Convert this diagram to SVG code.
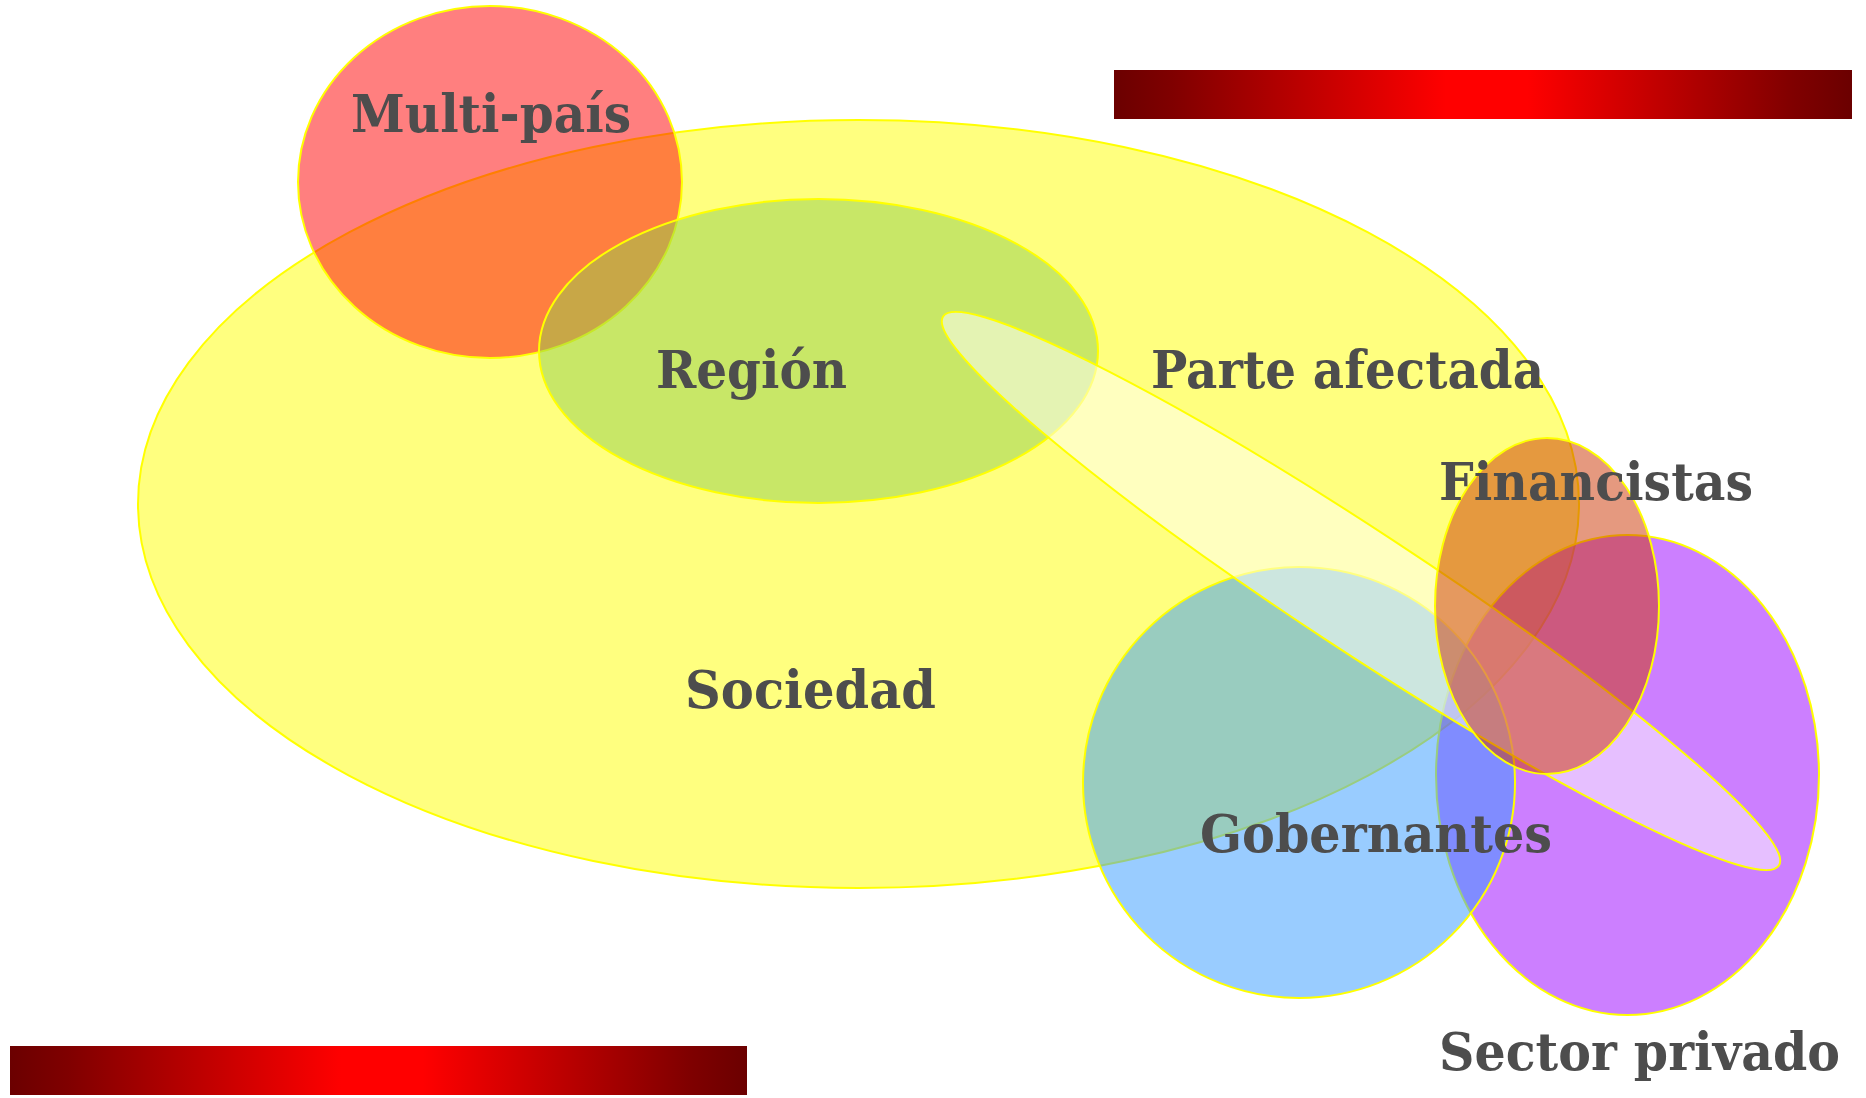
<svg xmlns="http://www.w3.org/2000/svg" width="1866" height="1098" viewBox="0 0 1866 1098">
  <style>
    .shape { stroke: #ffff00; stroke-width: 2; fill-opacity: 0.5; }
    .label { font-family: "DejaVu Serif", "Liberation Serif", serif; font-weight: bold; font-size: 53px; fill: #4d4d4d; }
  </style>
  <defs>
    <linearGradient id="fire" x1="0" y1="0" x2="1" y2="0">
      <stop offset="0" stop-color="#6b0000"/>
      <stop offset="0.08" stop-color="#800000"/>
      <stop offset="0.45" stop-color="#ff0000"/>
      <stop offset="0.56" stop-color="#ff0000"/>
      <stop offset="0.92" stop-color="#800000"/>
      <stop offset="1" stop-color="#6b0000"/>
    </linearGradient>
  </defs>
  <rect width="1866" height="1098" fill="#ffffff"/>
  <g id="bars">
    <rect x="1114" y="70" width="738" height="49" fill="url(#fire)"/>
    <rect x="10" y="1046" width="737" height="49" fill="url(#fire)"/>
  </g>
  <g id="node-sociedad">
    <ellipse class="shape" cx="858.5" cy="504" rx="720.5" ry="384" fill="#ffff00"/>
  </g>
  <g id="node-multipais">
    <ellipse class="shape" cx="490" cy="182" rx="192" ry="176" fill="#ff0000"/>
  </g>
  <g id="node-region">
    <ellipse class="shape" cx="818.5" cy="351" rx="279.5" ry="152" fill="#92d050"/>
  </g>
  <g id="node-sector-privado">
    <ellipse class="shape" cx="1627.5" cy="775" rx="191.5" ry="240" fill="#9900ff"/>
  </g>
  <g id="node-gobernantes">
    <ellipse class="shape" cx="1299" cy="782.5" rx="216" ry="215.5" fill="#3399ff"/>
  </g>
  <g id="node-parte-afectada">
    <ellipse class="shape" cx="1361" cy="591" rx="500" ry="60" fill="#ffffff" transform="rotate(33.3 1361 591)"/>
  </g>
  <g id="node-financistas">
    <ellipse class="shape" cx="1547" cy="606" rx="112" ry="168" fill="#cc3300"/>
  </g>
  <g id="labels">
    <text id="label-multipais" class="label" x="351" y="132" textLength="280" lengthAdjust="spacingAndGlyphs">Multi-país</text>
    <text id="label-region" class="label" x="656" y="388" textLength="191" lengthAdjust="spacingAndGlyphs">Región</text>
    <text id="label-parte-afectada" class="label" x="1151" y="388" textLength="393" lengthAdjust="spacingAndGlyphs">Parte afectada</text>
    <text id="label-financistas" class="label" x="1439" y="500" textLength="314" lengthAdjust="spacingAndGlyphs">Financistas</text>
    <text id="label-sociedad" class="label" x="685" y="708" textLength="251" lengthAdjust="spacingAndGlyphs">Sociedad</text>
    <text id="label-gobernantes" class="label" x="1200" y="852" textLength="352" lengthAdjust="spacingAndGlyphs">Gobernantes</text>
    <text id="label-sector-privado" class="label" x="1439" y="1070" textLength="401" lengthAdjust="spacingAndGlyphs">Sector privado</text>
  </g>
</svg>
